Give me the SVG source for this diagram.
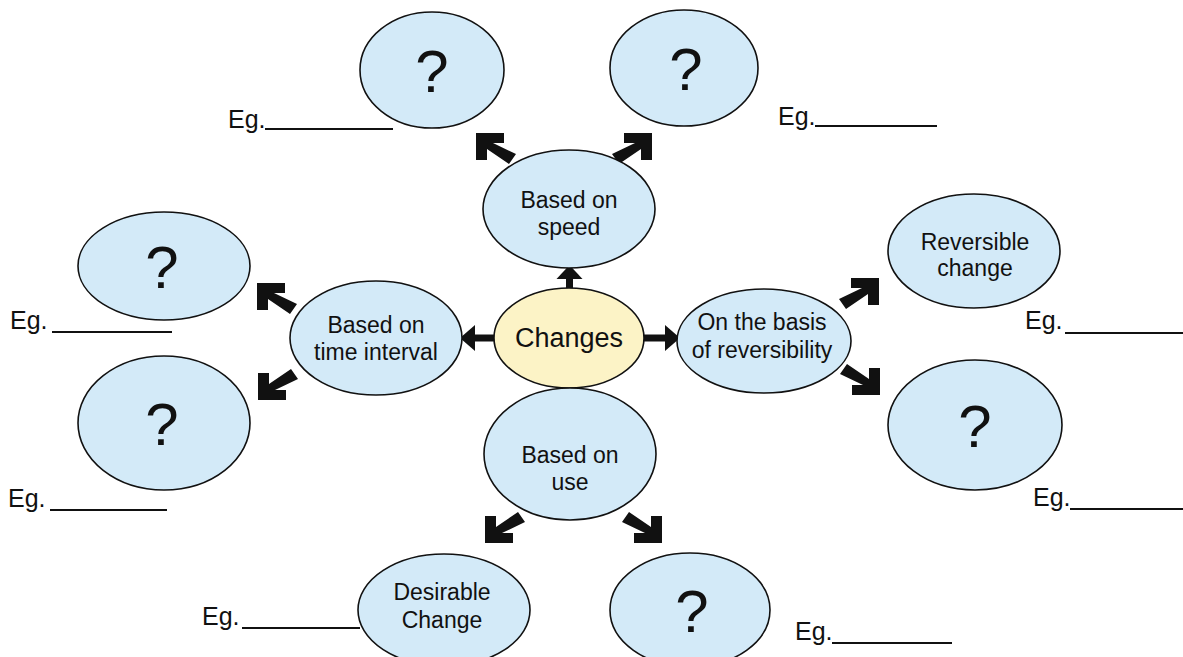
<svg xmlns="http://www.w3.org/2000/svg" xmlns:xlink="http://www.w3.org/1999/xlink" width="1183" height="657" viewBox="0 0 1183 657">
<style>
.n{fill:#d3eaf8;stroke:#111;stroke-width:1.6}
.c{fill:#fcf3c6;stroke:#111;stroke-width:1.6}
.t{font-family:"Liberation Sans",Arial,sans-serif;font-size:23px;fill:#111;text-anchor:middle}
.q{font-family:"Liberation Sans",Arial,sans-serif;font-size:60px;fill:#111;text-anchor:middle}
.e{font-family:"Liberation Sans",Arial,sans-serif;font-size:25px;fill:#111}
.u{stroke:#111;stroke-width:2}
.a{fill:#111}
.s{stroke:#111;stroke-width:7}
</style>
<defs>
<polygon id="big" points="0,0 0,27 -11,27 -11,16 -33,31 -40,21 -17,10 -28,10 -28,0"/>
</defs>
<rect width="1183" height="657" fill="#fff"/>
<g id="connectors">
<g class="a">
<use xlink:href="#big" href="#big" transform="translate(476,133) scale(-1,1)"/>
<use xlink:href="#big" href="#big" transform="translate(652,133)"/>
<use xlink:href="#big" href="#big" transform="translate(257,283) scale(-1,1)"/>
<use xlink:href="#big" href="#big" transform="translate(258,400) scale(-1,-1)"/>
<use xlink:href="#big" href="#big" transform="translate(879,278)"/>
<use xlink:href="#big" href="#big" transform="translate(880,395) scale(1,-1)"/>
<use xlink:href="#big" href="#big" transform="translate(485,543) scale(-1,-1)"/>
<use xlink:href="#big" href="#big" transform="translate(662,543) scale(1,-1)"/>
</g>
<line class="s" x1="569.5" y1="289" x2="569.5" y2="276"/>
<polygon class="a" points="569.5,265 582.5,279 556.5,279"/>
<line class="s" x1="569.5" y1="387" x2="569.5" y2="400"/>
<polygon class="a" points="569.5,411 582.5,397 556.5,397"/>
<line class="s" x1="495" y1="338" x2="472" y2="338"/>
<polygon class="a" points="460,338 475,325 475,351"/>
<line class="s" x1="644" y1="338" x2="667" y2="338"/>
<polygon class="a" points="680,338 665,325 665,351"/>
</g>
<g id="n-q1"><ellipse class="n" cx="432" cy="70" rx="72" ry="58"/><text class="q" x="432" y="92">?</text></g>
<g id="n-q2"><ellipse class="n" cx="684" cy="68" rx="74" ry="58"/><text class="q" x="686" y="90">?</text></g>
<g id="n-speed"><ellipse class="n" cx="569" cy="209" rx="86" ry="59"/><text class="t" x="569" y="208">Based on</text><text class="t" x="569" y="235">speed</text></g>
<g id="n-q3"><ellipse class="n" cx="164" cy="266" rx="86" ry="54"/><text class="q" x="162" y="288">?</text></g>
<g id="n-time"><ellipse class="n" cx="376" cy="338" rx="86" ry="57"/><text class="t" x="376" y="333">Based on</text><text class="t" x="376" y="360">time interval</text></g>
<g id="n-q4"><ellipse class="n" cx="164" cy="423" rx="86" ry="67"/><text class="q" x="162" y="445">?</text></g>
<g id="n-changes"><ellipse class="c" cx="569" cy="338" rx="75" ry="50"/><text class="t" x="569" y="347" style="font-size:27px">Changes</text></g>
<g id="n-rev"><ellipse class="n" cx="764" cy="341" rx="87" ry="52"/><text class="t" x="762" y="330">On the basis</text><text class="t" x="762" y="358">of reversibility</text></g>
<g id="n-revch"><ellipse class="n" cx="974" cy="251" rx="86" ry="57"/><text class="t" x="975" y="250">Reversible</text><text class="t" x="975" y="276">change</text></g>
<g id="n-q5"><ellipse class="n" cx="975" cy="425" rx="87" ry="65"/><text class="q" x="975" y="447">?</text></g>
<g id="n-use"><ellipse class="n" cx="570" cy="454" rx="86" ry="66"/><text class="t" x="570" y="463">Based on</text><text class="t" x="570" y="490">use</text></g>
<g id="n-des"><ellipse class="n" cx="444" cy="610" rx="86" ry="56"/><text class="t" x="442" y="600">Desirable</text><text class="t" x="442" y="628">Change</text></g>
<g id="n-q6"><ellipse class="n" cx="690" cy="610" rx="80" ry="57"/><text class="q" x="692" y="632">?</text></g>
<g id="eg">
<text class="e" x="228" y="128">Eg.</text><line class="u" x1="265" y1="129" x2="393" y2="129"/>
<text class="e" x="778" y="125">Eg.</text><line class="u" x1="815" y1="126" x2="937" y2="126"/>
<text class="e" x="10" y="329">Eg.</text><line class="u" x1="52" y1="332" x2="172" y2="332"/>
<text class="e" x="8" y="507">Eg.</text><line class="u" x1="50" y1="510" x2="167" y2="510"/>
<text class="e" x="1025" y="329">Eg.</text><line class="u" x1="1065" y1="333" x2="1183" y2="333"/>
<text class="e" x="1033" y="506">Eg.</text><line class="u" x1="1070" y1="509" x2="1183" y2="509"/>
<text class="e" x="202" y="625">Eg.</text><line class="u" x1="242" y1="628" x2="360" y2="628"/>
<text class="e" x="795" y="640">Eg.</text><line class="u" x1="832" y1="643" x2="952" y2="643"/>
</g>
</svg>
